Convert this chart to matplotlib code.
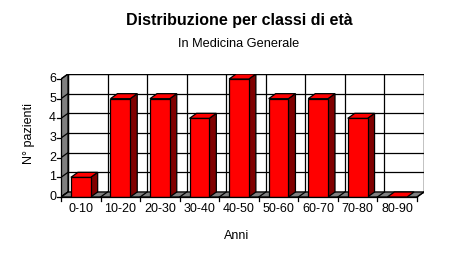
import matplotlib
matplotlib.use("Agg")
import matplotlib.pyplot as plt
from matplotlib.patches import Polygon, Rectangle

categories = ["0-10", "10-20", "20-30", "30-40", "40-50", "50-60", "60-70", "70-80", "80-90"]
values = [1, 5, 5, 4, 6, 5, 5, 4, 0]
yticks = [0, 1, 2, 3, 4, 5, 6]
title = "Distribuzione per classi di età"
subtitle = "In Medicina Generale"
xlabel = "Anni"
ylabel = "N° pazienti"

plt.rcParams['font.family'] = ['Liberation Sans', 'DejaVu Sans']

fig = plt.figure(figsize=(4.77, 2.57), dpi=100)
W, H = 477, 257
left_px, right_px, top_px, bot_px = 61, 424, 74, 197
ax = fig.add_axes([left_px / W, (H - bot_px) / H, (right_px - left_px) / W, (bot_px - top_px) / H])

n = len(categories)
ymax = max(yticks)
px_x = (right_px - left_px - 7) / n
px_y = (bot_px - top_px - 5) / ymax
DX = 7 / px_x
DY = 5 / px_y
ax.set_xlim(0, n + DX)
ax.set_ylim(0, ymax + DY)
ax.axis('off')

lw = 0.9
# back wall
ax.add_patch(Rectangle((DX, DY), n, ymax, facecolor='white', edgecolor='black', lw=lw, zorder=1))
for k in yticks:
    ax.plot([DX, n + DX], [k + DY, k + DY], color='black', lw=lw, zorder=2)
for i in range(n + 1):
    ax.plot([i + DX, i + DX], [DY, ymax + DY], color='black', lw=lw, zorder=2)
# left wall
ax.add_patch(Polygon([(0, 0), (DX, DY), (DX, ymax + DY), (0, ymax)], closed=True,
                     facecolor='#808080', edgecolor='black', lw=lw, zorder=3))
for k in yticks:
    ax.plot([0, DX], [k, k + DY], color='black', lw=lw, zorder=3)
# floor
ax.add_patch(Polygon([(0, 0), (n, 0), (n + DX, DY), (DX, DY)], closed=True,
                     facecolor='#808080', edgecolor='black', lw=lw, zorder=3))
for i in range(n + 1):
    ax.plot([i, i + DX], [0, DY], color='black', lw=lw, zorder=3)

# bars
bw = 0.5
for i, v in enumerate(values):
    x0 = i + (1 - bw) / 2
    x1 = x0 + bw
    z = 4 + i * 0.01
    if v > 0:
        ax.add_patch(Polygon([(x1, 0), (x1 + DX, DY), (x1 + DX, v + DY), (x1, v)], closed=True,
                             facecolor='#800000', edgecolor='black', lw=lw, zorder=z))
        ax.add_patch(Rectangle((x0, 0), bw, v, facecolor='#ff0000', edgecolor='black', lw=lw, zorder=z))
    ax.add_patch(Polygon([(x0, v), (x1, v), (x1 + DX, v + DY), (x0 + DX, v + DY)], closed=True,
                         facecolor='#ff0000', edgecolor='black', lw=lw, zorder=z))

# axis lines, ticks
ax.plot([0, n], [0, 0], color='black', lw=lw, zorder=6, clip_on=False)
ax.plot([0, 0], [0, ymax], color='black', lw=lw, zorder=6, clip_on=False)
tl_x = 4 / px_x
tl_y = 4 / px_y
for k in yticks:
    ax.plot([-tl_x, 0], [k, k], color='black', lw=lw, clip_on=False)
    ax.text(-tl_x - 1 / px_x, k, str(k), ha='right', va='center', fontsize=9)
for i in range(n + 1):
    ax.plot([i, i], [0, -tl_y], color='black', lw=lw, clip_on=False)
for i, c in enumerate(categories):
    ax.text(i + 0.5, -12 / px_y, c, ha='center', va='center', fontsize=9)

fig.text(239 / W, 1 - 20 / H, title, ha='center', va='center', fontsize=11.5, fontweight='bold')
fig.text(239 / W, 1 - 44 / H, subtitle, ha='center', va='center', fontsize=9.2)
fig.text(237 / W, 1 - 236 / H, xlabel, ha='center', va='center', fontsize=9)
fig.text(29 / W, 1 - 133 / H, ylabel, ha='center', va='center', rotation=90, fontsize=9)

fig.savefig("out.png", dpi=100)
